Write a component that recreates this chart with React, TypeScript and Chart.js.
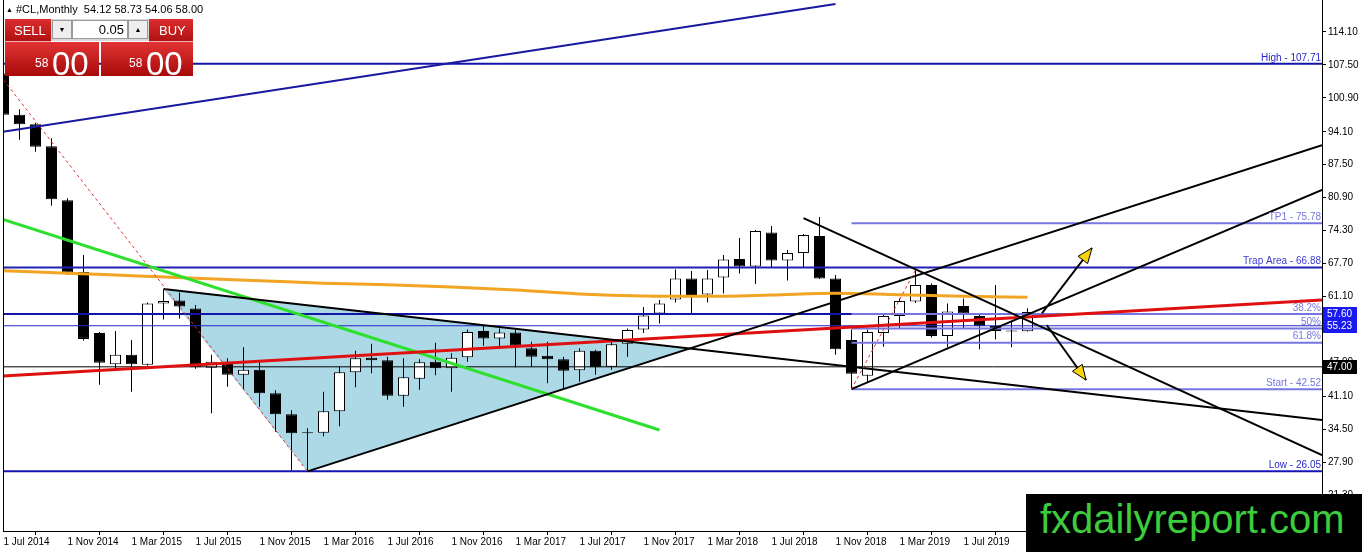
import React, { useEffect, useRef } from 'react';
import { Chart, registerables } from 'chart.js';

Chart.register(...registerables);

const FONT = "'Liberation Sans', Arial, sans-serif";

// ---- scale ranges (month index since Jul 2014 / price) ----
const xMin = -0.03125;
const xMax = 82.40625;
const yMin = 14.1;
const yMax = 120.51;

// ---- axis ticks ----
const xTickIndex = [0, 4, 8, 12, 16, 20, 24, 28, 32, 36, 40, 44, 48, 52, 56, 60, 64];
const xTickLabels = [
  '1 Jul 2014', '1 Nov 2014', '1 Mar 2015', '1 Jul 2015', '1 Nov 2015', '1 Mar 2016',
  '1 Jul 2016', '1 Nov 2016', '1 Mar 2017', '1 Jul 2017', '1 Nov 2017', '1 Mar 2018',
  '1 Jul 2018', '1 Nov 2018', '1 Mar 2019', '1 Jul 2019', '1 Nov 2019',
];
const yTickValues = [114.1, 107.5, 100.9, 94.1, 87.5, 80.9, 74.3, 67.7, 61.1, 54.5, 47.9, 41.1, 34.5, 27.9, 21.3];

// ---- monthly OHLC, Jul 2014 .. Nov 2019 ----
const opens = [
  105.8, 97.5, 95.6, 91.2, 80.4, 66.0, 53.8, 47.5, 49.4, 47.4, 59.7, 60.3, 58.7, 46.8, 48.0, 45.4,
  46.4, 41.7, 37.5, 33.7, 33.8, 38.1, 45.9, 48.8, 48.3, 41.2, 44.6, 48.0, 46.7, 48.9, 54.2, 52.7,
  53.9, 50.7, 49.2, 48.5, 46.3, 50.2, 47.0, 51.6, 54.5, 57.7, 60.5, 64.7, 61.5, 64.9, 68.6, 67.1,
  73.9, 68.3, 69.8, 73.2, 64.7, 52.4, 45.2, 53.8, 57.2, 60.1, 63.4, 53.2, 59.2, 57.2, 55.2, 54.1,
  54.12,
];
const highs = [
  106.5, 98.6, 95.9, 92.8, 80.8, 69.4, 54.0, 54.2, 52.4, 59.9, 62.5, 61.9, 59.4, 49.4, 48.7, 50.9,
  48.0, 42.3, 38.3, 34.7, 42.0, 47.0, 50.2, 51.6, 49.0, 48.7, 48.5, 51.8, 49.7, 54.5, 55.2, 54.7,
  54.5, 52.0, 52.0, 49.0, 50.7, 50.4, 52.0, 54.7, 59.0, 60.4, 66.5, 66.2, 66.4, 69.4, 72.8, 74.4,
  75.2, 70.4, 73.6, 77.0, 65.4, 54.5, 54.5, 57.4, 60.7, 66.4, 63.7, 59.7, 60.7, 57.7, 63.4, 56.0,
  58.73,
];
const lows = [
  96.9, 92.5, 90.1, 79.3, 65.4, 52.3, 43.4, 46.7, 42.0, 47.2, 56.5, 56.7, 46.6, 37.7, 43.0, 42.4,
  39.0, 34.0, 26.2, 26.05, 33.1, 35.1, 42.9, 45.7, 40.4, 39.0, 42.4, 45.3, 42.0, 48.0, 51.2, 51.0,
  46.9, 47.0, 43.7, 42.4, 44.0, 45.4, 46.4, 49.0, 53.8, 55.7, 59.9, 57.7, 59.9, 61.7, 65.7, 63.6,
  67.0, 64.3, 66.9, 64.6, 49.4, 42.5, 44.0, 51.0, 54.7, 59.8, 52.9, 50.9, 54.7, 50.5, 52.5, 50.9,
  54.06,
];
const closes = [
  97.5, 95.6, 91.1, 80.6, 65.9, 52.6, 47.8, 49.4, 47.5, 59.7, 60.2, 59.1, 46.9, 48.0, 45.4, 46.4,
  41.7, 37.5, 33.7, 33.9, 38.1, 45.9, 48.7, 48.3, 41.2, 44.9, 47.9, 46.7, 48.8, 54.0, 52.7, 53.9,
  51.2, 49.0, 48.5, 46.2, 50.2, 46.9, 51.5, 54.4, 57.3, 59.7, 64.7, 61.4, 64.7, 68.5, 67.1, 74.2,
  68.3, 69.8, 73.4, 64.7, 50.5, 45.6, 54.0, 57.2, 60.2, 63.4, 53.2, 58.1, 57.7, 55.2, 54.2, 54.2,
  58.0,
];

// ---- moving average (orange), sampled every 4 months ----
const maIndex = [0, 4, 8, 12, 16, 20, 24, 28, 32, 36, 40, 44, 48, 52, 56, 60, 64];
const maValues = [66.27, 65.76, 65.26, 64.76, 64.26, 63.76, 63.44, 62.98, 62.4, 61.6, 61.2, 61.13, 61.4, 61.76, 61.43, 61.15, 60.93];

// ---- trend lines [x1, y1, x2, y2] in month index / price ----
const blueChannelLine = [xMin, 94.12, 52, 119.7];
const greenLine = [xMin, 76.56, 41, 34.34];
const redLine = [xMin, 45.16, xMax, 60.39];
const triangleUpperLine = [10, 62.58, xMax, 36.35];
const triangleLowerLine = [19, 26.05, xMax, 91.4];
const fallingLine = [50, 76.8, xMax, 29.3];
const risingLine = [53, 42.52, xMax, 82.44];
const dashLeftLine = [0, 104.5, 19, 26.05];
const dashRightLine = [53, 42.52, 57, 66.4];
const arrowUpLine = [64.9, 57.73, 68.03, 70.81];
const arrowDownLine = [65.2, 55.38, 67.66, 44.36];

// ---- horizontal levels ----
const hLevels = [107.71, 66.88, 57.6, 55.23, 47.0, 26.05];
const hLabels = ['High - 107.71', 'Trap Area - 66.88', '', '', '', 'Low - 26.05'];
const fibStartIndex = 53;
const fibLevels = [75.78, 57.57, 54.7, 51.83, 42.52];
const fibLabels = ['TP1 - 75.78', '38.2%', '50%', '61.8%', 'Start - 42.52'];
const priceTags = [57.6, 55.23, 47.0];

// ---- styles (kept separate from data) ----
const hStyles = [
  { color: '#1414a8', width: 2, text: '#2626c8' },
  { color: '#2020b4', width: 2, text: '#3c3cd0' },
  { color: '#1414a8', width: 2, text: '#2626c8' },
  { color: '#2424c4', width: 1, text: '#2626c8' },
  { color: '#000000', width: 1, text: '#000' },
  { color: '#1414b4', width: 2, text: '#2626c8' },
];
const FIB_COLOR = '#7676e0';
const tagStyles = ['#1a1af0', '#1a1af0', '#000000'];

function intersect(a: number[], b: number[]) {
  const ma = (a[3] - a[1]) / (a[2] - a[0]);
  const mb = (b[3] - b[1]) / (b[2] - b[0]);
  const x = (b[1] - mb * b[0] - a[1] + ma * a[0]) / (ma - mb);
  return { x, y: a[1] + ma * (x - a[0]) };
}

function seg(l: number[], color: string, width: number, order: number, dash: number[] = []) {
  return {
    type: 'line' as const,
    data: [{ x: l[0], y: l[1] }, { x: l[2], y: l[3] }],
    borderColor: color,
    borderWidth: width,
    borderDash: dash,
    pointRadius: 0,
    pointHoverRadius: 0,
    fill: false,
    tension: 0,
    order,
  };
}

function buildDatasets() {
  const ds: any[] = [];
  const tip = intersect(triangleUpperLine, triangleLowerLine);
  const triBIndex = 1;
  ds.push({
    type: 'line',
    data: [{ x: triangleUpperLine[0], y: triangleUpperLine[1] }, tip],
    borderWidth: 0,
    borderColor: 'rgba(0,0,0,0)',
    backgroundColor: '#add8e6',
    pointRadius: 0,
    fill: triBIndex,
    tension: 0,
    order: 30,
  });
  ds.push({
    type: 'line',
    data: [
      { x: triangleUpperLine[0], y: triangleUpperLine[1] },
      { x: triangleLowerLine[0], y: triangleLowerLine[1] },
      tip,
    ],
    borderWidth: 0,
    borderColor: 'rgba(0,0,0,0)',
    pointRadius: 0,
    fill: false,
    tension: 0,
    order: 31,
  });
  const idx = opens.map((_, i) => i);
  ds.push({
    type: 'bar',
    data: idx.map((i) => ({ x: i, y: [lows[i], highs[i]] })),
    backgroundColor: '#000',
    borderWidth: 0,
    barThickness: 1,
    grouped: false,
    inflateAmount: 0,
    order: 21,
  });
  ds.push({
    type: 'bar',
    data: idx.map((i) => ({ x: i, y: [Math.min(opens[i], closes[i]), Math.max(opens[i], closes[i])] })),
    backgroundColor: idx.map((i) => (closes[i] > opens[i] ? '#ffffff' : '#000000')),
    borderColor: '#000',
    borderWidth: 1,
    borderSkipped: false,
    barThickness: 11,
    minBarLength: 1,
    grouped: false,
    inflateAmount: 0,
    order: 20,
  });
  ds.push({
    type: 'line',
    data: maIndex.map((x, i) => ({ x, y: maValues[i] })),
    borderColor: '#f2a424',
    borderWidth: 3,
    pointRadius: 0,
    fill: false,
    tension: 0.35,
    cubicInterpolationMode: 'monotone',
    order: 12,
  });
  hLevels.forEach((v, i) => {
    ds.push(seg([xMin, v, xMax, v], hStyles[i].color, hStyles[i].width, 10));
  });
  fibLevels.forEach((v) => {
    ds.push(seg([fibStartIndex, v, xMax, v], FIB_COLOR, 2, 9));
  });
  ds.push(seg(blueChannelLine, '#1818a0', 2, 5));
  ds.push(seg(greenLine, '#2ee02e', 3, 5));
  ds.push(seg(redLine, '#e01010', 3, 4));
  ds.push(seg(triangleUpperLine, '#000', 2, 3));
  ds.push(seg(triangleLowerLine, '#000', 2, 3));
  ds.push(seg(fallingLine, '#000', 2, 3));
  ds.push(seg(risingLine, '#000', 2, 3));
  ds.push(seg(dashLeftLine, '#e03030', 1, 2, [3, 3]));
  ds.push(seg(dashRightLine, '#e03030', 1, 2, [3, 3]));
  ds.push(seg(arrowUpLine, '#000', 2, 1));
  ds.push(seg(arrowDownLine, '#000', 2, 1));
  return ds;
}

function drawArrowHead(ctx: CanvasRenderingContext2D, x1: number, y1: number, x2: number, y2: number) {
  const dx = x2 - x1;
  const dy = y2 - y1;
  const len = Math.hypot(dx, dy);
  const ux = dx / len;
  const uy = dy / len;
  const L = 15;
  const W = 6;
  const bx = x2 - ux * L;
  const by = y2 - uy * L;
  ctx.beginPath();
  ctx.moveTo(x2, y2);
  ctx.lineTo(bx - uy * W, by + ux * W);
  ctx.lineTo(bx + uy * W, by - ux * W);
  ctx.closePath();
  ctx.fillStyle = '#f6d30f';
  ctx.fill();
  ctx.lineWidth = 1;
  ctx.strokeStyle = '#000';
  ctx.stroke();
}

const overlayPlugin = {
  id: 'overlay',
  afterDatasetsDraw(chart: any) {
    const { ctx, chartArea, scales } = chart;
    const xs = scales.x;
    const ys = scales.y;
    ctx.save();
    [arrowUpLine, arrowDownLine].forEach((l) => {
      drawArrowHead(
        ctx,
        xs.getPixelForValue(l[0]), ys.getPixelForValue(l[1]),
        xs.getPixelForValue(l[2]), ys.getPixelForValue(l[3]),
      );
    });
    ctx.font = `10px ${FONT}`;
    ctx.textAlign = 'right';
    ctx.textBaseline = 'bottom';
    hLevels.forEach((v, i) => {
      if (!hLabels[i]) return;
      ctx.fillStyle = hStyles[i].text;
      ctx.fillText(hLabels[i], chartArea.right - 1, ys.getPixelForValue(v) - 1);
    });
    ctx.fillStyle = FIB_COLOR;
    fibLevels.forEach((v, i) => {
      ctx.fillText(fibLabels[i], chartArea.right - 1, ys.getPixelForValue(v) - 1);
    });
    ctx.restore();
  },
  afterDraw(chart: any) {
    const { ctx, chartArea, scales } = chart;
    const ys = scales.y;
    ctx.save();
    ctx.strokeStyle = '#000';
    ctx.lineWidth = 1;
    ctx.beginPath();
    ctx.moveTo(chartArea.left + 0.5, chartArea.top);
    ctx.lineTo(chartArea.left + 0.5, chartArea.bottom);
    ctx.stroke();
    ctx.font = `10px ${FONT}`;
    ctx.textAlign = 'left';
    ctx.textBaseline = 'middle';
    priceTags.forEach((v, i) => {
      const y = Math.round(ys.getPixelForValue(v));
      ctx.fillStyle = tagStyles[i];
      ctx.fillRect(chartArea.right + 1, y - 7, 34, 14);
      ctx.fillStyle = '#fff';
      ctx.fillText(v.toFixed(2), chartArea.right + 5, y + 0.5);
    });
    ctx.restore();
  },
};

const redBox = 'linear-gradient(#dc2e2e, #b01212)';
const bigRedBox = 'linear-gradient(#e23434, #a80a0a)';

export default function App() {
  const ref = useRef<HTMLCanvasElement>(null);
  useEffect(() => {
    if (!ref.current) return;
    const chart = new Chart(ref.current, {
      type: 'bar',
      data: { datasets: buildDatasets() },
      options: {
        animation: false,
        responsive: false,
        devicePixelRatio: 1,
        events: [],
        layout: { autoPadding: false, padding: { left: 3, top: 0, right: 0, bottom: 0 } },
        plugins: { legend: { display: false }, tooltip: { enabled: false } },
        scales: {
          x: {
            type: 'linear',
            min: xMin,
            max: xMax,
            offset: false,
            afterBuildTicks: (s: any) => {
              s.ticks = xTickIndex.map((v) => ({ value: v }));
            },
            afterFit: (s: any) => {
              s.height = 21;
              s.paddingLeft = 0;
              s.paddingRight = 0;
              s.paddingTop = 0;
              s.paddingBottom = 0;
            },
            ticks: {
              autoSkip: false,
              maxRotation: 0,
              align: 'start',
              padding: 1,
              color: '#000',
              font: { family: FONT, size: 10 },
              callback: (_v: any, i: number) => xTickLabels[i],
            },
            grid: { drawOnChartArea: false, drawTicks: true, tickLength: 4, color: '#000' },
            border: { display: true, color: '#000', width: 1 },
          },
          y: {
            type: 'linear',
            position: 'right',
            min: yMin,
            max: yMax,
            afterBuildTicks: (s: any) => {
              s.ticks = yTickValues.map((v) => ({ value: v }));
            },
            afterFit: (s: any) => {
              s.width = 40;
              s.paddingLeft = 0;
              s.paddingRight = 0;
              s.paddingTop = 0;
              s.paddingBottom = 0;
            },
            ticks: {
              autoSkip: false,
              padding: 2,
              color: '#000',
              font: { family: FONT, size: 10 },
              callback: (v: any) => Number(v).toFixed(2),
            },
            grid: { drawOnChartArea: false, drawTicks: true, tickLength: 4, color: '#000' },
            border: { display: true, color: '#000', width: 1 },
          },
        },
      } as any,
      plugins: [overlayPlugin],
    });
    return () => chart.destroy();
  }, []);

  const txt = { fontFamily: FONT, color: '#fff', position: 'absolute' as const, lineHeight: 1 };
  return (
    <div style={{ position: 'fixed', left: 0, top: 0, width: 1362, height: 552, background: '#fff', overflow: 'hidden' }}>
      <canvas ref={ref} width={1362} height={552} style={{ display: 'block', width: 1362, height: 552 }} />
      <div style={{ position: 'absolute', left: 6, top: 3, fontFamily: FONT, fontSize: 11, color: '#000', whiteSpace: 'pre' }}>
        <span style={{ fontSize: 7, position: 'relative', top: -1 }}>▲</span>
        {' #CL,Monthly  54.12 58.73 54.06 58.00'}
      </div>
      <div style={{ position: 'absolute', left: 5, top: 19, width: 46, height: 23, background: redBox, borderBottom: '1px solid #f0b0b0', boxSizing: 'border-box' }}>
        <div style={{ ...txt, left: 9, top: 5, fontSize: 13 }}>SELL</div>
      </div>
      <div style={{ position: 'absolute', left: 51, top: 19, width: 98, height: 22, background: '#d8d8d8' }} />
      <div style={{ position: 'absolute', left: 52, top: 20, width: 20, height: 19, background: '#eeeeee', border: '1px solid #9a9a9a', boxSizing: 'border-box', fontSize: 7, textAlign: 'center', lineHeight: '17px', fontFamily: FONT }}>▼</div>
      <div style={{ position: 'absolute', left: 72, top: 20, width: 56, height: 19, background: '#fff', border: '1px solid #9a9a9a', boxSizing: 'border-box', fontFamily: FONT, fontSize: 13, textAlign: 'right', paddingRight: 3, lineHeight: '17px' }}>0.05</div>
      <div style={{ position: 'absolute', left: 128, top: 20, width: 20, height: 19, background: '#eeeeee', border: '1px solid #9a9a9a', boxSizing: 'border-box', fontSize: 7, textAlign: 'center', lineHeight: '17px', fontFamily: FONT }}>▲</div>
      <div style={{ position: 'absolute', left: 149, top: 19, width: 44, height: 23, background: redBox, borderBottom: '1px solid #f0b0b0', boxSizing: 'border-box' }}>
        <div style={{ ...txt, left: 10, top: 5, fontSize: 13 }}>BUY</div>
      </div>
      <div style={{ position: 'absolute', left: 5, top: 42, width: 94, height: 34, background: bigRedBox }}>
        <div style={{ ...txt, left: 30, top: 15, fontSize: 12 }}>58</div>
        <div style={{ ...txt, left: 47, top: 5, fontSize: 33 }}>00</div>
      </div>
      <div style={{ position: 'absolute', left: 101, top: 42, width: 92, height: 34, background: bigRedBox }}>
        <div style={{ ...txt, left: 28, top: 15, fontSize: 12 }}>58</div>
        <div style={{ ...txt, left: 45, top: 5, fontSize: 33 }}>00</div>
      </div>
      <div style={{ position: 'absolute', left: 1026, top: 494, width: 336, height: 58, background: '#000' }}>
        <div style={{ position: 'absolute', left: 14, top: 2, fontFamily: FONT, fontSize: 40, lineHeight: '46px', color: '#3dcc3d', whiteSpace: 'nowrap' }}>fxdailyreport.com</div>
      </div>
    </div>
  );
}
